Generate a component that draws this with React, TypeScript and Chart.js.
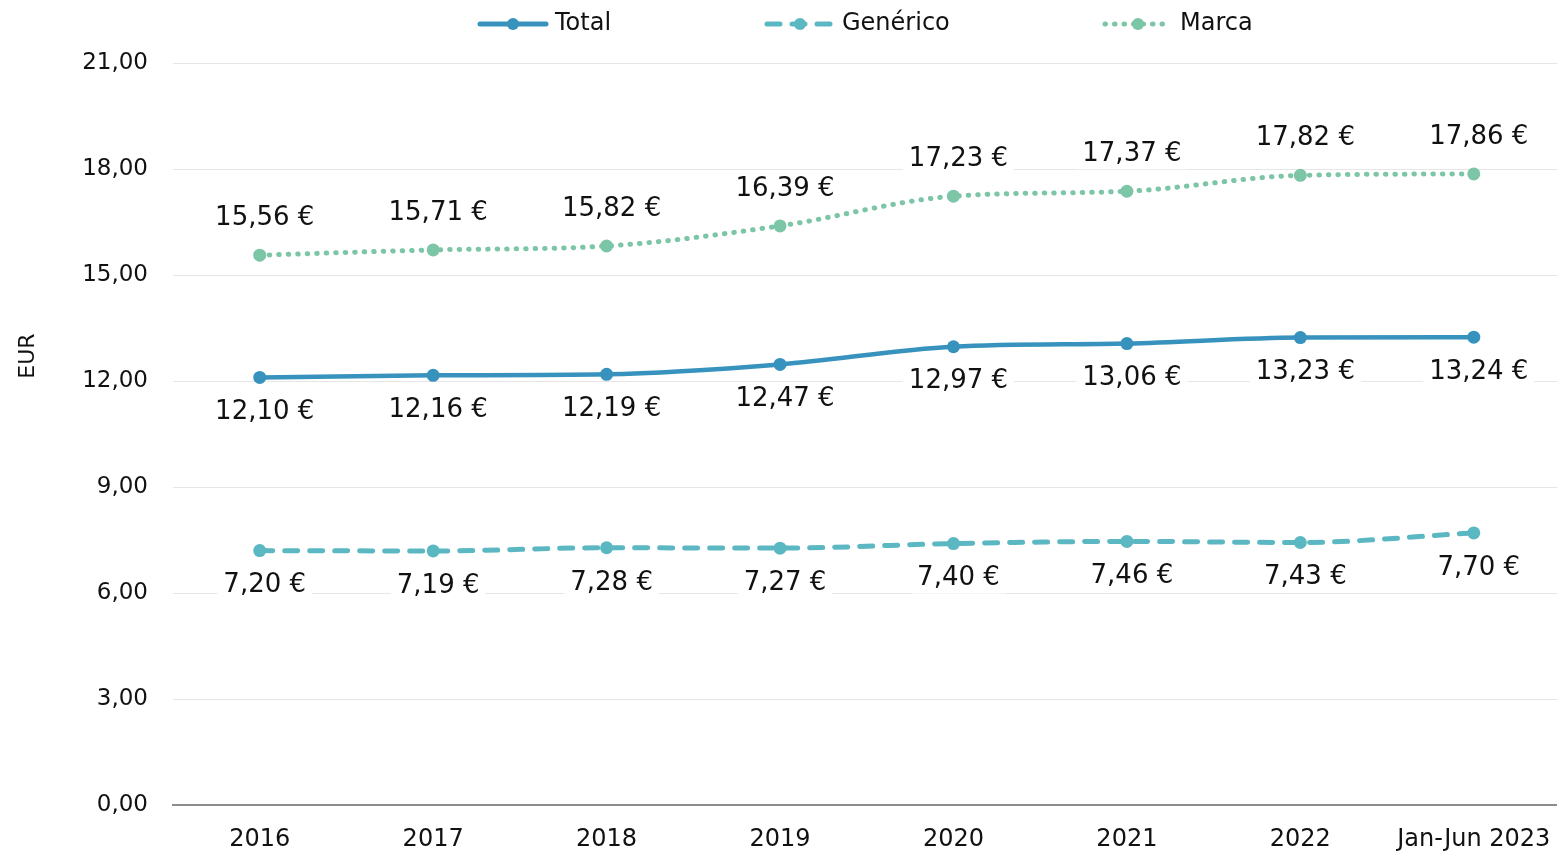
import React, { useEffect, useRef } from "react";
import { Chart, registerables } from "chart.js";

Chart.register(...registerables);

const categories = ["2016", "2017", "2018", "2019", "2020", "2021", "2022", "Jan-Jun 2023"];
const totalValues = [12.1, 12.16, 12.19, 12.47, 12.97, 13.06, 13.23, 13.24];
const genericoValues = [7.2, 7.19, 7.28, 7.27, 7.4, 7.46, 7.43, 7.7];
const marcaValues = [15.56, 15.71, 15.82, 16.39, 17.23, 17.37, 17.82, 17.86];
const seriesNames = ["Total", "Genérico", "Marca"];
const axisTitle = "EUR";

const FONT = "'DejaVu Sans', sans-serif";
const colors = ["#3793bd", "#5bb8c3", "#7cc5a7"];
const dashes = [[], [13, 12], [0.5, 9]];
const labelOffsets = [35, 35, -37];

const fmt = (v: number) => v.toFixed(2).replace(".", ",");

const overlayPlugin = {
  id: "overlay",
  afterDatasetsDraw(chart: any) {
    const ctx = chart.ctx;
    ctx.save();
    ctx.font = `26px ${FONT}`;
    ctx.textAlign = "center";
    ctx.textBaseline = "middle";
    chart.data.datasets.forEach((ds: any, di: number) => {
      const meta = chart.getDatasetMeta(di);
      meta.data.forEach((pt: any, i: number) => {
        const txt = fmt(ds.data[i]) + " €";
        const x = pt.x + 5;
        const y = pt.y + labelOffsets[di];
        const w = ctx.measureText(txt).width;
        ctx.fillStyle = "#ffffff";
        ctx.fillRect(x - w / 2 - 6, y - 15, w + 12, 30);
        ctx.fillStyle = "#111111";
        ctx.fillText(txt, x, y);
      });
    });
    ctx.restore();
  },
  afterDraw(chart: any) {
    const ctx = chart.ctx;
    ctx.save();
    ctx.font = `22px ${FONT}`;
    ctx.fillStyle = "#111111";
    ctx.textAlign = "center";
    ctx.textBaseline = "middle";
    ctx.translate(28, 356);
    ctx.rotate(-Math.PI / 2);
    ctx.fillText(axisTitle, 0, 0);
    ctx.restore();

    ctx.save();
    const starts = [478, 765, 1103];
    const ly = 24;
    seriesNames.forEach((name, i) => {
      const x0 = starts[i];
      ctx.strokeStyle = colors[i];
      ctx.lineWidth = 5;
      ctx.lineCap = "round";
      ctx.setLineDash(dashes[i]);
      ctx.beginPath();
      ctx.moveTo(x0 + 2, ly);
      ctx.lineTo(x0 + 68, ly);
      ctx.stroke();
      ctx.setLineDash([]);
      ctx.fillStyle = colors[i];
      ctx.beginPath();
      ctx.arc(x0 + 35, ly, 6, 0, Math.PI * 2);
      ctx.fill();
      ctx.font = `24px ${FONT}`;
      ctx.fillStyle = "#111111";
      ctx.textAlign = "left";
      ctx.textBaseline = "middle";
      ctx.fillText(name, x0 + 77, ly);
    });
    ctx.restore();
  },
};

export default function App() {
  const canvasRef = useRef<HTMLCanvasElement | null>(null);

  useEffect(() => {
    if (!canvasRef.current) return;
    const values = [totalValues, genericoValues, marcaValues];
    const chart = new Chart(canvasRef.current, {
      type: "line",
      data: {
        labels: categories,
        datasets: seriesNames.map((name, i) => ({
          label: name,
          data: values[i],
          borderColor: colors[i],
          backgroundColor: colors[i],
          borderWidth: i === 0 ? 4.5 : 5,
          borderDash: dashes[i],
          borderCapStyle: "round",
          pointRadius: 6.5,
          pointHoverRadius: 6.5,
          pointBackgroundColor: colors[i],
          pointBorderWidth: 0,
          cubicInterpolationMode: "monotone",
          fill: false,
        })),
      },
      options: {
        animation: false,
        responsive: false,
        devicePixelRatio: 1,
        layout: { padding: { top: 63, right: 0, left: 0, bottom: 0 } },
        plugins: {
          legend: { display: false },
          tooltip: { enabled: false },
        },
        scales: {
          x: {
            offset: true,
            grid: { display: false, drawTicks: false },
            border: { display: true, color: "#8c8c8c", width: 2 },
            ticks: {
              color: "#111111",
              font: { family: FONT, size: 24 },
              padding: 20,
              maxRotation: 0,
              autoSkip: false,
            },
            afterFit: (scale: any) => {
              scale.height = 46;
              scale.paddingLeft = 0;
              scale.paddingRight = 0;
            },
          },
          y: {
            min: 0,
            max: 21,
            grid: { color: "#e6e6e6", lineWidth: 1, drawTicks: false },
            border: { display: false },
            ticks: {
              stepSize: 3,
              color: "#111111",
              font: { family: FONT, size: 23 },
              padding: 25,
              callback: (v: any) => fmt(Number(v)),
            },
            afterFit: (scale: any) => {
              scale.width = 173;
            },
          },
        },
      },
      plugins: [overlayPlugin],
    });
    return () => chart.destroy();
  }, []);

  return (
    <div style={{ position: "fixed", left: 0, top: 0, width: 1557, height: 851, background: "#fff", overflow: "hidden" }}>
      <canvas ref={canvasRef} width={1567} height={851} style={{ display: "block", width: 1567, height: 851 }} />
    </div>
  );
}
